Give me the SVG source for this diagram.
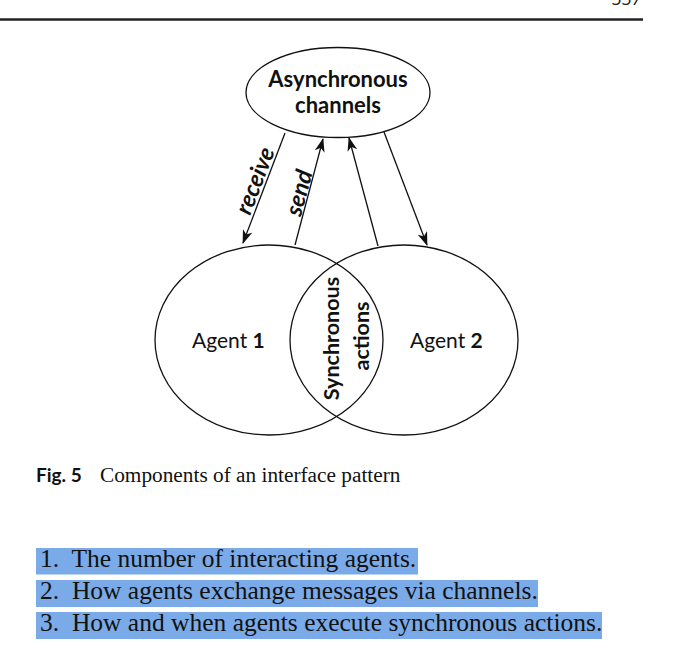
<svg xmlns="http://www.w3.org/2000/svg" width="690" height="666" viewBox="0 0 690 666">
<style>
.shape{fill:none;stroke:#111;stroke-width:1.3}
.conn{stroke:#111;stroke-width:1.3;fill:none}
.lbl{font-family:Lato,"Open Sans",sans-serif;fill:#111}
.b{font-weight:bold}
.lst{font-family:"Liberation Serif","Times New Roman",serif;font-size:25.5px;fill:#111}
.hl{fill:#7aabe8}
</style>
<defs>
<marker id="arr" viewBox="0 0 14 10" refX="13" refY="5" markerWidth="14" markerHeight="10" markerUnits="userSpaceOnUse" orient="auto">
<path d="M0,0 L14,5 L0,10 L4,5 Z" fill="#111"/>
</marker>
</defs>
<rect width="690" height="666" fill="#fff"/>
<text x="612" y="5" font-family="'Open Sans',sans-serif" font-size="18" font-style="italic" fill="#222">337</text>
<line x1="0" y1="19.5" x2="643" y2="19.5" stroke="#222" stroke-width="2.5"/>
<g id="channels">
<ellipse class="shape" cx="338" cy="92.5" rx="92" ry="45"/>
<text class="lbl b" x="338" y="87" font-size="22" text-anchor="middle">Asynchronous</text>
<text class="lbl b" x="338" y="113" font-size="22" text-anchor="middle">channels</text>
</g>
<g id="agent1">
<ellipse class="shape" cx="269" cy="340" rx="114" ry="95"/>
<text class="lbl" x="192" y="348" font-size="21">Agent <tspan class="b">1</tspan></text>
</g>
<g id="agent2">
<ellipse class="shape" cx="404" cy="340" rx="114" ry="95"/>
<text class="lbl" x="410" y="348" font-size="21">Agent <tspan class="b">2</tspan></text>
</g>
<g id="sync">
<text class="lbl b" transform="translate(339,338.5) rotate(-90)" font-size="21.5" text-anchor="middle">Synchronous</text>
<text class="lbl b" transform="translate(369,336) rotate(-90)" font-size="21.5" text-anchor="middle">actions</text>
</g>
<g id="connectors">
<line class="conn" x1="285" y1="133" x2="243" y2="243" marker-end="url(#arr)"/>
<line class="conn" x1="295" y1="245" x2="323" y2="139" marker-end="url(#arr)"/>
<line class="conn" x1="378" y1="246" x2="349" y2="138" marker-end="url(#arr)"/>
<line class="conn" x1="384" y1="132" x2="427" y2="245" marker-end="url(#arr)"/>
<text class="lbl b" font-style="italic" font-size="23.5" text-anchor="middle" transform="translate(256,181) rotate(-69)" dy="7">receive</text>
<text class="lbl b" font-style="italic" font-size="23.5" text-anchor="middle" transform="translate(300,193) rotate(-75)" dy="7">send</text>
</g>
<g id="caption">
<text x="36" y="482" font-family="Lato,'Open Sans',sans-serif" font-weight="bold" font-size="19" fill="#111">Fig. 5</text>
<text x="100" y="482" font-family="'Liberation Serif','Times New Roman',serif" font-size="21.3" fill="#111">Components of an interface pattern</text>
</g>
<g id="list">
<rect class="hl" x="36" y="548" width="382" height="26.5"/>
<rect class="hl" x="36" y="580" width="502" height="27"/>
<rect class="hl" x="36" y="612" width="566" height="27"/>
<text class="lst" x="40" y="567" xml:space="preserve">1.  The number of interacting agents.</text>
<text class="lst" x="40" y="599" xml:space="preserve">2.  How agents exchange messages via channels.</text>
<text class="lst" x="40" y="631" xml:space="preserve">3.  How and when agents execute synchronous actions.</text>
</g>
</svg>
